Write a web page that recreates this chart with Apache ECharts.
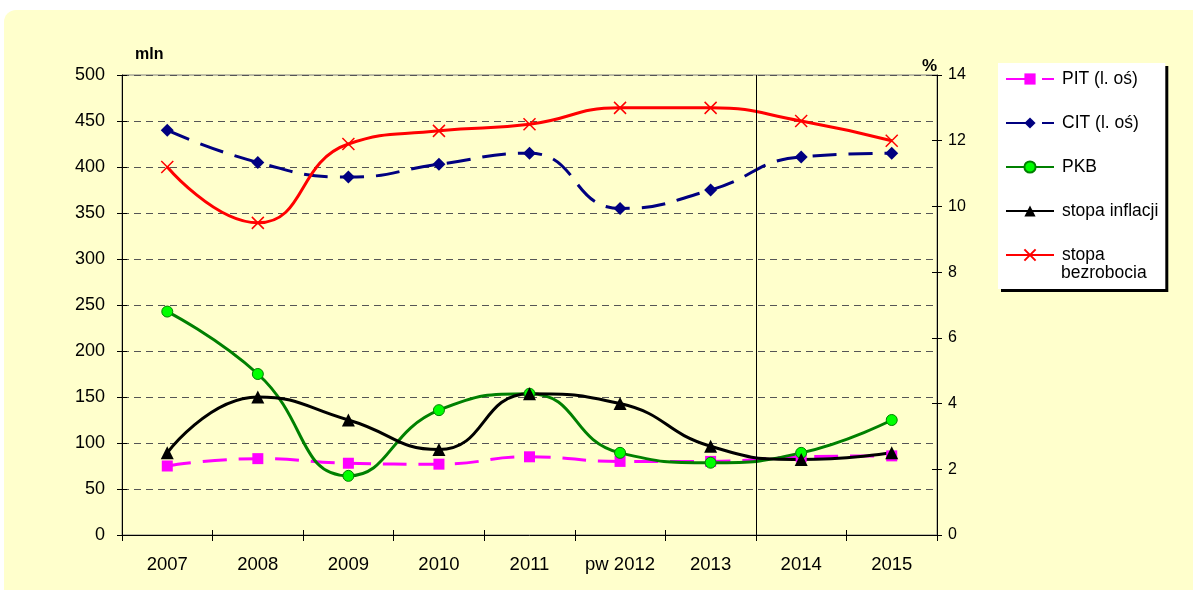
<!DOCTYPE html>
<html>
<head>
<meta charset="utf-8">
<script src="https://cdn.jsdelivr.net/npm/echarts@6/dist/echarts.min.js"></script>
<style>
  html, body { margin: 0; padding: 0; background: #fff; }
  #chart { width: 1193px; height: 590px; }
</style>
</head>
<body>
<div id="chart"></div>
<script>
// dane
var years = ['2007', '2008', '2009', '2010', '2011', 'pw 2012', '2013', '2014', '2015'];
var pit = [75, 83, 78, 77, 85, 80, 80, 85, 86];
var cit = [440, 405, 389, 403, 415, 355, 375, 411, 415];
var pkb = [6.8, 4.9, 1.8, 3.8, 4.3, 2.5, 2.2, 2.5, 3.5];
var inflacja = [2.5, 4.2, 3.5, 2.6, 4.3, 4.0, 2.7, 2.3, 2.5];
var bezrobocie = [11.2, 9.5, 11.9, 12.3, 12.5, 13.0, 13.0, 12.6, 12.0];
// pionowa linia miedzy 2013 a 2014
var separatorAt = 7;

var font = 'Liberation Sans, Arial, sans-serif';
var myChart = echarts.init(document.getElementById('chart'));

// kreski osi przechodzace na druga strone (jak w Excelu)
var innerTick = { show: true, inside: true, length: 5, lineStyle: { color: '#000' } };

myChart.setOption({
  animation: false,
  textStyle: { fontFamily: font },
  graphic: [
    {
      type: 'rect',
      z: -10,
      shape: { x: 4, y: 10, width: 1220, height: 620, r: 12 },
      style: { fill: '#FFFFCC' }
    },
    {
      // druga linijka opisu w legendzie
      type: 'text',
      z: 100,
      left: 1061,
      top: 264,
      style: { text: 'bezrobocia', fill: '#000', font: '17.5px ' + font }
    }
  ],
  grid: {
    left: 122,
    right: 256,
    top: 75,
    bottom: 55,
    show: true,
    borderColor: '#808080',
    borderWidth: 1,
    backgroundColor: 'transparent'
  },
  legend: {
    orient: 'vertical',
    left: 998,
    top: 63,
    padding: [7, 7, 25, 7],
    itemGap: 26,
    itemWidth: 48,
    itemHeight: 14,
    backgroundColor: '#fff',
    shadowColor: '#000',
    shadowBlur: 0,
    shadowOffsetX: 3,
    shadowOffsetY: 3,
    textStyle: { fontSize: 17.5, color: '#000', fontFamily: font, padding: [0, 0, 0, 3] },
    formatter: function (name) {
      return name === 'stopa bezrobocia' ? 'stopa' : name;
    },
    data: ['PIT (l. oś)', 'CIT (l. oś)', 'PKB', 'stopa inflacji', 'stopa bezrobocia']
  },
  xAxis: [
    {
      type: 'category',
      data: years,
      boundaryGap: true,
      axisLine: { lineStyle: { color: '#000', width: 1 } },
      axisTick: { show: true, length: 6, lineStyle: { color: '#000' } },
      axisLabel: { color: '#000', fontSize: 18.5, margin: 20, interval: 0 }
    },
    {
      type: 'value',
      min: 0,
      max: years.length,
      show: false
    },
    {
      type: 'category',
      data: years,
      position: 'bottom',
      axisLine: { show: false },
      axisTick: innerTick,
      axisLabel: { show: false }
    }
  ],
  yAxis: [
    {
      type: 'value',
      min: 0,
      max: 500,
      interval: 50,
      name: 'mln',
      nameGap: 12,
      nameTextStyle: { fontWeight: 'bold', fontSize: 16, color: '#000', align: 'left', padding: [0, 0, 0, 13] },
      axisLine: { show: true, lineStyle: { color: '#000', width: 1 } },
      axisTick: { show: true, length: 5, lineStyle: { color: '#000' } },
      axisLabel: { color: '#000', fontSize: 18, margin: 17 },
      splitLine: { show: true, lineStyle: { color: '#555', type: [7, 5], width: 1 } }
    },
    {
      type: 'value',
      min: 0,
      max: 14,
      interval: 2,
      position: 'right',
      name: '%',
      nameGap: 0,
      nameTextStyle: { fontWeight: 'bold', fontSize: 17, color: '#000', align: 'right' },
      axisLine: { show: true, lineStyle: { color: '#000', width: 1 } },
      axisTick: { show: true, length: 5, lineStyle: { color: '#000' } },
      axisLabel: { color: '#000', fontSize: 16, margin: 11 },
      splitLine: { show: false }
    },
    {
      type: 'value',
      min: 0,
      max: 500,
      interval: 50,
      position: 'left',
      axisLine: { show: false },
      axisTick: innerTick,
      axisLabel: { show: false },
      splitLine: { show: false }
    },
    {
      type: 'value',
      min: 0,
      max: 14,
      interval: 2,
      position: 'right',
      axisLine: { show: false },
      axisTick: innerTick,
      axisLabel: { show: false },
      splitLine: { show: false }
    }
  ],
  series: [
    {
      name: 'PIT (l. oś)',
      type: 'line',
      yAxisIndex: 0,
      smooth: true,
      data: pit,
      symbol: 'rect',
      symbolSize: 11,
      lineStyle: { color: '#FF00FF', width: 3, type: [24, 12] },
      itemStyle: { color: '#FF00FF' }
    },
    {
      name: 'CIT (l. oś)',
      type: 'line',
      yAxisIndex: 0,
      smooth: true,
      data: cit,
      symbol: 'diamond',
      symbolSize: 13,
      lineStyle: { color: '#000080', width: 3, type: [24, 12] },
      itemStyle: { color: '#000080' }
    },
    {
      name: 'PKB',
      type: 'line',
      yAxisIndex: 1,
      smooth: true,
      data: pkb,
      symbol: 'circle',
      symbolSize: 11,
      lineStyle: { color: '#008000', width: 3 },
      itemStyle: { color: '#00FF00', borderColor: '#008000', borderWidth: 1 }
    },
    {
      name: 'stopa inflacji',
      type: 'line',
      yAxisIndex: 1,
      smooth: true,
      data: inflacja,
      symbol: 'triangle',
      symbolSize: 13,
      lineStyle: { color: '#000', width: 3 },
      itemStyle: { color: '#000' }
    },
    {
      name: 'stopa bezrobocia',
      type: 'line',
      yAxisIndex: 1,
      smooth: true,
      data: bezrobocie,
      symbol: 'path://M0,0L10,10M10,0L0,10',
      symbolSize: 12,
      lineStyle: { color: '#FF0000', width: 3 },
      itemStyle: { color: '#FF0000', borderColor: '#FF0000', borderWidth: 1.5 }
    },
    {
      name: 'separator',
      type: 'line',
      xAxisIndex: 1,
      yAxisIndex: 0,
      data: [],
      markLine: {
        silent: true,
        symbol: ['none', 'none'],
        label: { show: false },
        lineStyle: { color: '#000', width: 1, type: 'solid' },
        data: [{ xAxis: separatorAt }]
      }
    }
  ]
});
</script>
</body>
</html>
